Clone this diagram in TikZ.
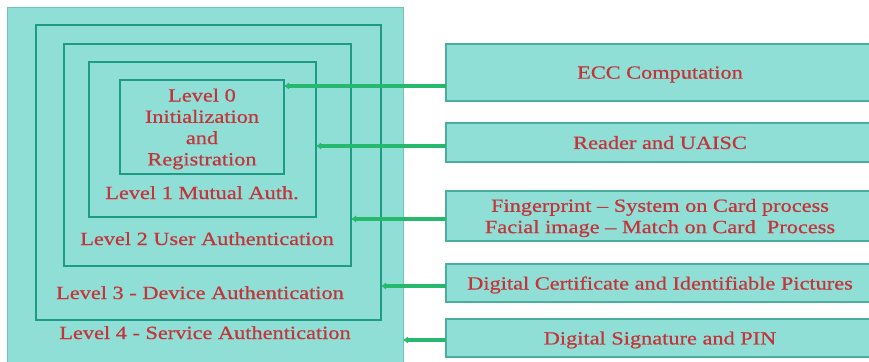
\documentclass[tikz,border=0pt]{standalone}
\usepackage{fontspec}
\setmainfont{Liberation Serif}[FakeStretch=1.2,FakeBold=0.6]
\usetikzlibrary{arrows.meta,shadows}
\definecolor{boxfill}{RGB}{143,223,214}
\definecolor{boxedge}{RGB}{30,155,135}
\definecolor{lightedge}{RGB}{105,200,185}
\definecolor{linkgreen}{RGB}{38,184,108}
\definecolor{labelred}{RGB}{196,52,58}
\begin{document}
\begin{tikzpicture}[x=1pt,y=-1pt,
  txt/.style={text=labelred,font=\fontsize{18.6}{21.3}\selectfont},
  outerbox/.style={draw=lightedge,line width=1pt,fill=boxfill,inner sep=0pt,outer sep=0pt},
  levelbox/.style={draw=boxedge,line width=1.8pt,fill=boxfill,inner sep=0pt,outer sep=0pt,
    drop shadow={shadow xshift=0.6pt,shadow yshift=-1pt,fill=boxedge!60!black,opacity=0.35}},
  sidebox/.style={draw=boxedge!80,line width=1.2pt,fill=boxfill,inner sep=0pt,outer sep=0pt,
    align=center,txt,text depth=0pt,
    drop shadow={shadow xshift=0.6pt,shadow yshift=-1.2pt,fill=boxedge!60!black,opacity=0.4}},
  link/.style={draw=linkgreen,line width=3.4pt,-{Latex[length=5pt,width=7.5pt]}},
]
\useasboundingbox (0,0) rectangle (869,361);
\clip (0,0) rectangle (869,361);

% nested security levels
\node[outerbox,minimum width=396pt,minimum height=367pt] (l4) at (205,191.5) {};
\node[levelbox,minimum width=345pt,minimum height=295pt] (l3) at (208.5,172.5) {};
\node[levelbox,minimum width=287pt,minimum height=222pt] (l2) at (207.5,155) {};
\node[levelbox,minimum width=227pt,minimum height=155pt] (l1) at (202.5,139.5) {};
\node[levelbox,minimum width=164pt,minimum height=94pt,align=center,txt,text depth=0pt] (l0) at (202,127)
  {Level 0\\Initialization\\and\\Registration};

% level captions
\node[txt,anchor=base] (c1) at (202,199) {Level 1 Mutual Auth.};
\node[txt,anchor=base] (c2) at (207,245) {Level 2 User Authentication};
\node[txt,anchor=base] (c3) at (200,299) {Level 3 - Device Authentication};
\node[txt,anchor=base] (c4) at (205,339) {Level 4 - Service Authentication};

% mechanisms for each level
\node[sidebox,minimum width=428pt,minimum height=57pt] (r1) at (660,72.5) {ECC Computation};
\node[sidebox,minimum width=428pt,minimum height=39pt] (r2) at (660,142.5) {Reader and UAISC};
\node[sidebox,minimum width=428pt,minimum height=50pt] (r3) at (660,216)
  {Fingerprint -- System on Card process\\Facial image -- Match on Card~ Process};
\node[sidebox,minimum width=428pt,minimum height=38pt] (r4) at (660,283) {Digital Certificate and Identifiable Pictures};
\node[sidebox,minimum width=428pt,minimum height=38pt] (r5) at (660,338) {Digital Signature and PIN};

% heights of the links
\coordinate (y1) at (0,86);
\coordinate (y2) at (0,146);
\coordinate (y3) at (0,219);
\coordinate (y4) at (0,286);
\coordinate (y5) at (0,340);

\draw[link] (r1.west |- y1) -- (l0.east |- y1);
\draw[link] (r2.west |- y2) -- (l1.east |- y2);
\draw[link] (r3.west |- y3) -- (l2.east |- y3);
\draw[link] (r4.west |- y4) -- (l3.east |- y4);
\draw[link] (r5.west |- y5) -- (l4.east |- y5);
\end{tikzpicture}
\end{document}
